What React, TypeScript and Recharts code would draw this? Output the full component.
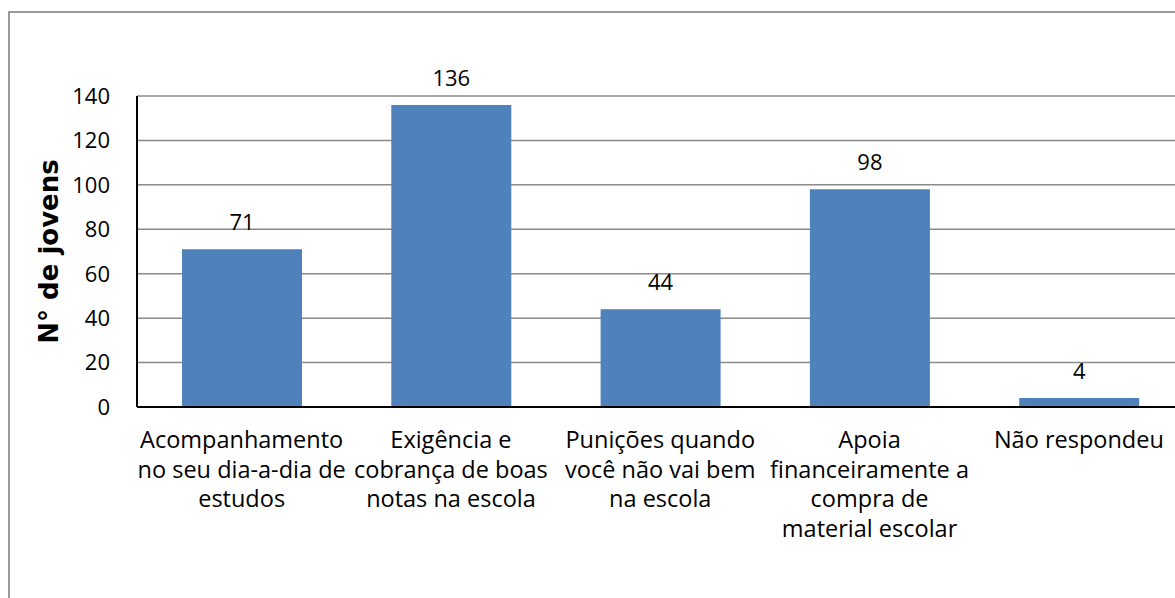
import React from "react";
import { BarChart, Bar, XAxis, YAxis, CartesianGrid, LabelList, Label } from "recharts";

const categories = [
  "Acompanhamento\nno seu dia-a-dia de\nestudos",
  "Exigência e\ncobrança de boas\nnotas na escola",
  "Punições quando\nvocê não vai bem\nna escola",
  "Apoia\nfinanceiramente a\ncompra de\nmaterial escolar",
  "Não respondeu",
];
const values = [71, 136, 44, 98, 4];
const yTicks = [0, 20, 40, 60, 80, 100, 120, 140];
const yTitle = "N° de jovens";

const data = categories.map((c, i) => ({ name: c, value: values[i] }));

const FONT = "'Open Sans', sans-serif";

const CatTick = (props: any) => {
  const { x, y, payload } = props;
  const lines = String(payload.value).split("\n");
  return (
    <text x={x} y={y + 41} textAnchor="middle" fill="#000" fontSize={23.5} fontFamily={FONT}>
      {lines.map((l, i) => (
        <tspan key={i} x={x} dy={i === 0 ? 0 : 29.5}>
          {l}
        </tspan>
      ))}
    </text>
  );
};

const YTitle = (props: any) => {
  const vb = props.viewBox;
  const cx = vb.x + 12;
  const cy = vb.y + vb.height / 2;
  return (
    <text
      x={cx}
      y={cy}
      transform={`rotate(-90 ${cx} ${cy})`}
      textAnchor="middle"
      dominantBaseline="central"
      fontFamily="'DejaVu Sans', sans-serif"
      fontWeight="bold"
      fontSize={26}
      fill="#000"
    >
      {yTitle}
    </text>
  );
};

export default function App() {
  return (
    <div style={{ position: "fixed", left: 0, top: 0, width: 1175, height: 598, overflow: "hidden", background: "#fff" }}>
      <div
        style={{
          position: "absolute",
          left: 8,
          top: 11,
          width: 1300,
          height: 700,
          border: "2px solid #9a9a9a",
          boxSizing: "border-box",
        }}
      />
      <div style={{ position: "absolute", left: 7, top: 8 }}>
        <BarChart
          width={1300}
          height={600}
          data={data}
          margin={{ top: 88, right: 123.5, bottom: 51, left: 30 }}
        >
          <CartesianGrid vertical={false} stroke="#8a8a8a" strokeWidth={1.5} />
          <XAxis
            dataKey="name"
            interval={0}
            height={150}
            tickLine={false}
            tickSize={0}
            tickMargin={0}
            axisLine={{ stroke: "#000", strokeWidth: 2 }}
            tick={<CatTick />}
          />
          <YAxis
            width={100}
            domain={[0, 140]}
            ticks={yTicks}
            interval={0}
            tickLine={false}
            tickSize={0}
            tickMargin={27}
            axisLine={{ stroke: "#000", strokeWidth: 2 }}
            tick={{ fill: "#000", fontSize: 22, fontFamily: FONT }}
          >
            <Label content={<YTitle />} />
          </YAxis>
          <Bar dataKey="value" fill="#4f81bd" barSize={120} isAnimationActive={false}>
            <LabelList dataKey="value" position="top" offset={19} fill="#000" fontSize={22} fontFamily={FONT} />
          </Bar>
        </BarChart>
      </div>
    </div>
  );
}
